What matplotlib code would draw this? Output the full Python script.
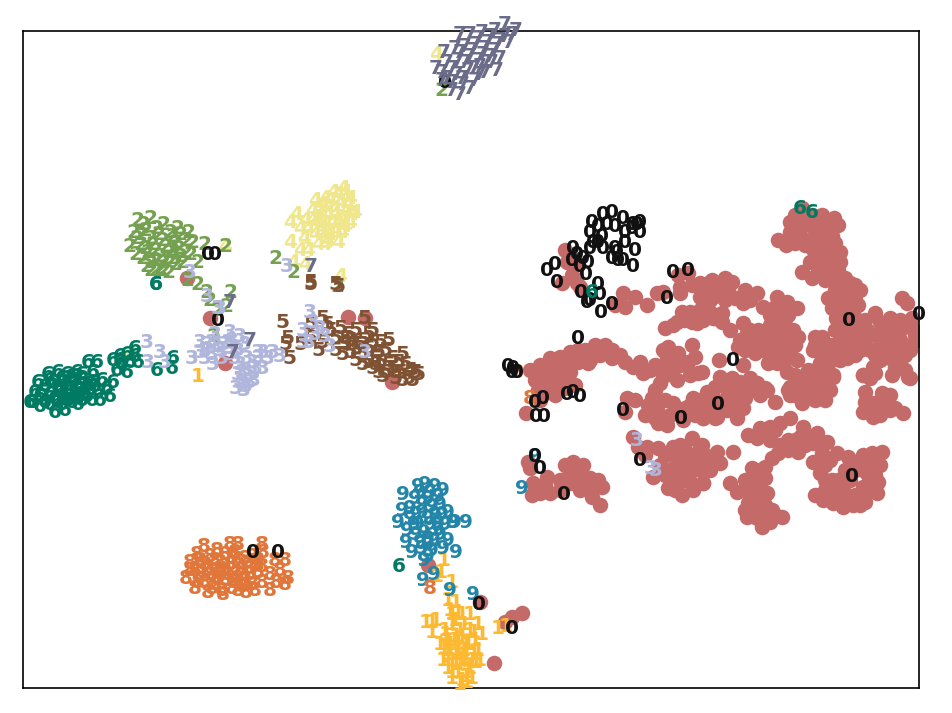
import matplotlib
matplotlib.use("Agg")
import matplotlib.pyplot as plt

# embedding points (axes run in the picture's own pixel units)
red_pts = [
    (802,208),(795,215),(812,215),(822,215),(834,218),(832,228),(825,225),(810,225),(797,228),(790,232),
    (800,235),(815,235),(825,238),(778,240),(786,245),(795,243),(805,245),(815,242),(835,243),(828,245),
    (840,252),(835,258),(825,252),(815,255),(810,262),(820,265),(835,265),(840,262),(830,272),(818,272),
    (802,272),(812,278),(825,280),(835,277),(845,278),(855,285),(860,290),(848,290),(835,290),(828,298),
    (840,300),(852,295),(858,305),(850,308),(842,310),(836,318),(848,320),(838,305),(832,308),
    (790,222),(803,220),(816,220),(828,222),(838,225),(792,238),(803,240),(820,232),(832,236),(812,248),
    (822,258),(830,258),(838,270),(822,272),(826,265),(840,285),(850,283),(845,300),(855,300),(838,297),
    (902,298),(907,303),(912,318),(905,325),(895,330),(890,318),(880,322),(875,313),(865,320),(867,330),
    (855,328),(845,330),(835,330),(925,330),(928,355),(815,337),(822,337),(813,350),(900,363),(908,377),
    (863,375),(873,367),(885,340),(900,340),(915,335),(910,350),(895,350),(880,345),(865,345),(850,340),
    (840,340),(875,355),(890,358),(855,355),(905,355),(830,345),
    (845,322),(858,320),(870,335),(880,332),(890,330),(900,330),(912,328),(918,340),(905,345),(895,342),
    (885,352),(870,350),(860,338),(848,350),(860,350),(900,320),(880,360),(895,368),(905,370),(870,378),
    (530,370),(540,365),(550,358),(560,357),(570,352),(585,350),(595,345),(605,345),(612,350),(600,355),
    (590,360),(578,362),(565,365),(552,370),(545,378),(535,380),(548,385),(560,378),(570,372),(545,392),
    (555,395),(565,388),(575,385),(540,400),(526,413),(578,350),(588,363),(620,355),(633,367),(643,373),
    (540,372),(555,365),(560,368),(575,358),(590,353),(600,350),(555,378),(565,380),(553,388),(538,390),
    (612,358),(625,362),(640,362),(650,370),(660,370),(672,372),(680,365),(688,362),(690,375),(665,375),
    (655,390),(648,405),(655,418),(667,425),(680,410),(690,405),(700,400),(712,405),(695,415),(708,410),
    (655,365),(667,357),(663,350),(678,353),(695,357),(692,345),(698,373),(670,363),(677,380),(660,383),
    (652,398),(645,415),(658,423),(673,403),(693,398),(707,392),(715,387),(703,418),(717,417),(657,410),
    (670,415),(683,420),(627,398),(635,400),(625,412),(638,447),(633,437),(647,447),(658,448),(673,447),
    (692,438),(700,447),(713,457),(703,462),(677,458),(690,455),(673,468),(690,472),(703,483),(668,488),
    (682,495),(693,490),(653,477),(682,480),(672,480),(685,465),(665,400),(685,408),
    (645,455),(680,445),(685,450),(665,455),(660,465),(665,475),(675,490),(690,482),(700,470),(695,460),
    (710,470),(680,470),(705,455),
    (530,468),(547,477),(565,465),(573,462),(583,465),(568,477),(580,477),(598,480),(602,487),(592,497),
    (600,505),(532,495),(540,493),(550,493),(560,490),(570,483),(580,490),(588,487),(533,483),(528,462),
    (575,470),(560,480),(590,478),(545,485),(590,488),
    (565,250),(567,262),(562,283),(577,283),(572,275),(580,287),(575,265),(570,255),
    (623,293),(635,297),(625,307),(615,305),(647,305),(657,293),(663,292),(678,275),(688,273),(680,287),
    (692,285),(680,293),(700,283),(712,280),(720,287),(707,290),(700,297),(713,297),(682,312),(677,322),
    (665,328),(673,325),(690,312),(697,323),(710,312),(713,318),(692,322),(668,347),(685,320),(700,310),
    (710,282),(725,278),(732,282),(705,290),(717,290),(728,290),(745,290),(757,293),(743,303),(742,297),
    (777,297),(787,302),(763,307),(775,307),(797,308),(780,315),(788,315),(703,307),(703,320),(722,313),
    (715,318),(722,322),(730,330),(743,323),(758,330),(747,333),(738,347),(753,337),(765,333),(780,327),
    (793,330),(775,337),(787,337),(798,337),(755,353),(745,350),(768,353),(775,347),(768,363),(777,363),
    (787,372),(790,353),(790,347),(797,360),(828,353),(840,353),(847,358),(832,360),(820,363),(808,370),
    (833,375),(822,377),(813,378),(803,377),(790,387),(810,387),(817,387),(743,365),(719,360),(720,377),
    (732,378),(740,382),(757,383),(765,388),(702,372),(820,350),(805,385),
    (725,300),(735,298),(710,300),(750,300),(770,315),(785,325),(755,345),(762,345),(770,345),(780,350),
    (785,345),(785,360),(795,345),(740,340),(750,330),(760,340),(770,325),(815,345),(825,345),(835,345),
    (825,362),(815,370),(825,370),(840,360),(795,375),(795,385),(800,390),(810,380),(820,385),(790,395),
    (815,400),(830,390),(722,385),(735,390),(750,378),(760,395),(730,405),(715,400),(705,410),(735,405),
    (745,398),
    (737,382),(757,385),(767,390),(775,402),(748,390),(740,397),(743,408),(737,418),(710,392),(707,402),
    (703,418),(715,418),(727,410),(727,397),(722,407),(712,410),(788,390),(800,377),(817,390),(802,403),
    (825,400),(833,377),(807,393),(795,395),(812,398),
    (865,392),(882,393),(890,395),(863,412),(873,417),(883,410),(895,408),(903,413),(873,403),(863,375),
    (875,373),(892,375),(910,378),(885,402),(875,410),(865,402),(890,410),(880,415),
    (790,418),(780,423),(770,427),(760,428),(748,435),(757,438),(770,440),(803,427),(817,433),(827,442),
    (788,440),(800,437),(813,443),(798,452),(788,450),(778,453),(772,458),(765,467),(752,468),(745,480),
    (765,478),(730,483),(737,492),(750,486),(767,493),(758,500),(748,503),(772,510),(782,517),(747,517),
    (762,527),(755,517),(767,517),(760,510),(733,452),(717,452),(705,462),(720,463),(702,445),(703,483),
    (775,430),(765,435),(805,435),(795,440),(815,440),(790,445),(780,445),(805,445),(760,470),(755,480),
    (750,495),(760,490),(755,505),(765,505),(745,510),(775,515),(760,520),(770,522),
    (813,462),(822,453),(837,453),(848,457),(863,455),(872,453),(882,452),(820,473),(832,480),(815,495),
    (823,500),(833,503),(843,507),(853,505),(865,502),(877,493),(878,482),(873,467),(863,470),(830,488),
    (843,490),(863,487),(870,483),(850,480),(855,495),(840,497),(868,475),(855,470),(845,470),
    (825,465),(830,460),(825,480),(825,490),(835,495),(845,495),(865,495),(875,475),(870,460),(850,500),
    (860,505),(838,480),(880,465),(855,462),
    (210,318),(225,363),(187,278),(348,317),(365,318),(392,382),(428,565),(480,602),(522,613),(512,617),
    (505,622),(494,663),
]
x_red = [p[0] for p in red_pts]
y_red = [p[1] for p in red_pts]

zero_pts = [
    (592,222),(603,215),(612,213),(623,218),(598,227),(607,225),(615,227),(590,232),(602,237),(625,232),
    (633,225),(640,223),(637,225),(632,228),(640,233),(625,242),(593,242),(590,248),(598,242),(603,248),
    (615,248),(635,250),(612,258),(618,260),(623,261),(633,266),(617,253),
    (573,248),(577,255),(572,260),(583,258),(580,267),(588,263),(586,274),(555,265),(547,271),(557,282),
    (598,285),(581,292),(600,295),(587,303),(590,300),(612,305),(601,313),(673,273),(688,270),(667,298),
    (578,339),(733,360),(849,320),(919,315),(852,477),(508,367),(512,373),(517,372),(513,369),(535,402),
    (543,399),(536,417),(544,417),(567,394),(573,392),(580,396),(623,410),(681,419),(718,405),(640,461),
    (540,469),(535,456),(564,494),(208,254),(215,254),(253,552),(278,553),(218,320),(479,605),(512,628),
    (445,83),
]
one_pts = [
    (198,376),(444,560),(441,572),(452,583),(437,577),(448,600),(450,610),(456,603),(432,622),(426,622),
    (436,620),(445,630),(432,633),(440,645),(443,660),(447,640),(455,620),(462,615),(470,615),(478,625),
    (482,635),(470,630),(460,630),(450,650),(458,645),(468,645),(478,650),(480,660),(472,660),(462,660),
    (452,660),(458,672),(468,672),(462,680),(452,672),(444,648),(456,636),(466,655),(475,640),(464,650),
    (456,655),(462,638),(448,668),(460,665),(470,668),(498,629),(506,627),(467,682),
    (452,625),(464,625),(474,632),(454,640),(448,655),(456,665),(464,658),(474,655),(452,678),(460,684),
    (466,676),(472,678),(458,650),(466,642),(476,662),(450,645),(452,615),(458,612),(446,634),
]
two_pts = [
    (137,221),(150,219),(163,225),(177,228),(188,232),(133,232),(145,230),(158,235),(172,236),(186,240),
    (129,246),(140,244),(152,244),(165,246),(178,248),(192,243),(135,255),(147,252),(160,256),(173,258),
    (185,252),(150,262),(163,263),(175,265),(155,270),(168,272),(146,266),(136,239),(197,262),(182,262),
    (204,244),(225,246),(275,258),(293,273),(187,280),(197,284),(206,293),(209,300),(230,292),(226,307),
    (217,310),(213,337),(441,90),(337,287),
    (143,225),(156,228),(170,232),(180,235),(140,235),(150,238),(162,240),(175,242),(145,248),(155,250),
    (168,252),(180,256),(142,258),(155,260),(165,258),(160,268),(172,250),(150,270),(163,270),(190,255),
]
three_pts = [
    (147,342),(160,352),(148,362),(165,363),(192,358),(213,365),(200,342),(220,308),(230,332),(205,350),
    (212,342),(220,350),(228,342),(238,350),(205,358),(222,358),(235,358),(245,345),(215,335),(240,336),
    (247,358),(240,365),(252,362),(258,358),(246,370),(238,375),(252,374),(242,382),(250,382),(236,388),
    (244,390),(256,368),(263,353),(273,352),(263,368),(280,357),(310,313),(303,330),(313,323),(325,337),
    (303,343),(330,347),(315,335),(320,328),(365,353),(637,441),(651,469),(656,471),(190,272),(207,297),
    (218,308),(287,267),(309,343),
    (208,345),(216,347),(224,345),(232,348),(242,372),(248,376),(240,380),(246,386),(254,380),(232,340),
    (212,355),(230,355),(200,352),(258,352),(268,358),
]
four_pts = [
    (343,188),(333,192),(325,198),(315,200),(350,198),(340,203),(328,208),(355,212),(345,212),(335,215),
    (322,215),(312,210),(350,222),(338,224),(326,225),(315,222),(330,235),(342,232),(320,232),(308,228),
    (296,215),(290,223),(304,238),(290,243),(300,250),(318,244),(308,250),(293,262),(305,265),(325,245),
    (338,242),(225,247),(340,276),(436,55),(130,352),
    (338,195),(330,200),(345,192),(322,205),(335,208),(348,205),(318,208),(328,215),(342,218),(352,215),
    (318,218),(332,222),(345,226),(322,228),(335,230),(312,220),(315,235),(328,240),(305,220),(300,228),
]
five_pts = [
    (282,323),(310,285),(338,287),(310,282),(335,285),(364,318),(327,325),(287,338),(285,345),(289,358),
    (310,325),(322,318),(330,330),(340,328),(348,335),(355,330),(363,340),(372,330),(380,342),(388,341),
    (345,345),(356,348),(368,348),(378,352),(342,355),(355,360),(368,362),(380,362),(392,358),(402,355),
    (362,365),(378,372),(392,368),(405,365),(415,372),(382,376),(395,378),(408,378),(418,375),(400,372),
    (318,350),(300,345),(335,350),(310,338),(322,342),
    (350,340),(360,345),(372,342),(385,350),(350,352),(362,355),(375,358),(388,365),(398,362),(410,370),
    (372,368),(385,372),(395,372),(402,380),(412,380),(345,338),(335,338),(368,335),(375,365),(352,345),
]
six_pts = [
    (30,403),(40,407),(55,412),(65,410),(78,405),(92,400),(100,400),(110,397),(107,388),(102,380),
    (113,382),(97,362),(88,363),(93,372),(77,372),(67,375),(58,372),(48,375),(38,382),(35,393),
    (45,387),(53,383),(63,383),(73,380),(83,380),(92,383),(40,397),(50,395),(60,393),(70,392),
    (80,390),(90,390),(98,392),(33,402),(45,402),(57,402),(68,400),(78,398),(87,397),(113,360),
    (120,357),(127,355),(135,348),(138,362),(130,363),(122,365),(117,370),(127,373),(120,363),(135,357),
    (157,370),(173,358),(172,368),(156,284),(156,285),(399,567),(800,208),(812,212),(592,293),
    (50,380),(58,388),(68,385),(78,385),(88,385),(42,392),(55,398),(65,396),(75,394),(85,393),
    (50,405),(62,405),(72,403),(82,401),(95,387),(62,378),(72,376),(82,374),
]
seven_pts = [
    (505,25),(495,30),(512,35),(482,33),(470,35),(460,35),(500,40),(488,42),(476,44),(465,46),
    (455,48),(444,52),(495,50),(483,54),(470,56),(458,60),(447,63),(436,68),(492,62),(480,66),
    (468,70),(457,74),(447,78),(475,80),(463,85),(452,90),(442,80),(460,95),(485,72),(497,70),
    (509,42),(233,352),(250,340),(230,302),(311,266),
    (490,36),(478,38),(505,36),(497,45),(484,48),(472,50),(460,52),(490,56),(478,60),(465,62),
    (452,68),(442,72),(486,62),(474,68),(462,78),(452,82),(470,88),(480,74),(516,30),(500,58),
]
eight_pts = [
    (530,398),(517,372),(430,588),
    (204,546),(230,544),(238,544),(262,545),(263,553),(217,551),(197,555),(190,562),(186,578),(195,588),
    (208,592),(223,594),(246,592),(270,590),(288,578),(285,560),(280,570),(270,575),(262,582),(255,590),
    (195,570),(205,565),(215,560),(225,555),(235,552),(245,558),(255,565),(210,575),(220,570),(230,565),
    (240,570),(250,575),(205,582),(215,585),(225,580),(235,583),(245,580),(200,575),(190,570),(258,560),
    (276,582),(285,585),(275,560),(225,570),(215,570),(235,575),(222,590),(238,590),
    (200,560),(210,556),(220,562),(232,558),(242,562),(252,556),(200,568),(208,570),(218,578),(228,575),
    (238,578),(248,568),(258,572),(252,585),(212,588),(232,588),(242,586),(198,582),(262,566),
]
nine_pts = [
    (403,494),(418,486),(425,484),(435,487),(443,490),(402,510),(415,498),(428,498),(440,505),(448,512),
    (398,522),(410,518),(422,512),(435,515),(445,525),(407,530),(418,525),(430,525),(440,535),(453,522),
    (406,542),(416,535),(428,538),(438,530),(448,540),(456,552),(412,552),(422,548),(432,550),(443,548),
    (428,556),(424,561),(455,522),(466,522),(522,489),(423,581),(434,575),(450,590),(473,594),(535,456),
    (420,492),(430,492),(438,497),(422,504),(432,506),(410,508),(416,514),(428,518),(438,522),(414,525),
    (424,532),(434,540),(420,542),(428,545),(442,515),
]

# one colour per digit, in the order they are stacked
digit_order = ["1", "9", "8", "4", "2", "5", "0", "6", "3", "7"]
digit_pts = {
    "0": zero_pts, "1": one_pts, "2": two_pts, "3": three_pts, "4": four_pts,
    "5": five_pts, "6": six_pts, "7": seven_pts, "8": eight_pts, "9": nine_pts,
}
digit_colors = {
    "0": "#111111", "1": "#FDB92F", "2": "#74A14F", "3": "#B0B5DC", "4": "#F0E68C",
    "5": "#7F5233", "6": "#007A62", "7": "#6B6B8A", "8": "#E0763A", "9": "#2385A8",
}

fig = plt.figure(figsize=(9.52, 7.13), dpi=100)
ax = fig.add_axes([23 / 952, 1 - 688 / 713, 896 / 952, 657 / 713])
ax.scatter(x_red, y_red, s=125, color="#C46A68", linewidths=0)
for d in digit_order:
    for x, y in digit_pts[d]:
        ax.text(x, y, d, color=digit_colors[d], fontsize=14.5, fontweight="bold",
                ha="center", va="center")
ax.set_xlim(23, 919)
ax.set_ylim(688, 31)
ax.set_xticks([])
ax.set_yticks([])
for s in ax.spines.values():
    s.set_linewidth(1.2)
fig.savefig("out.png", dpi=100)
